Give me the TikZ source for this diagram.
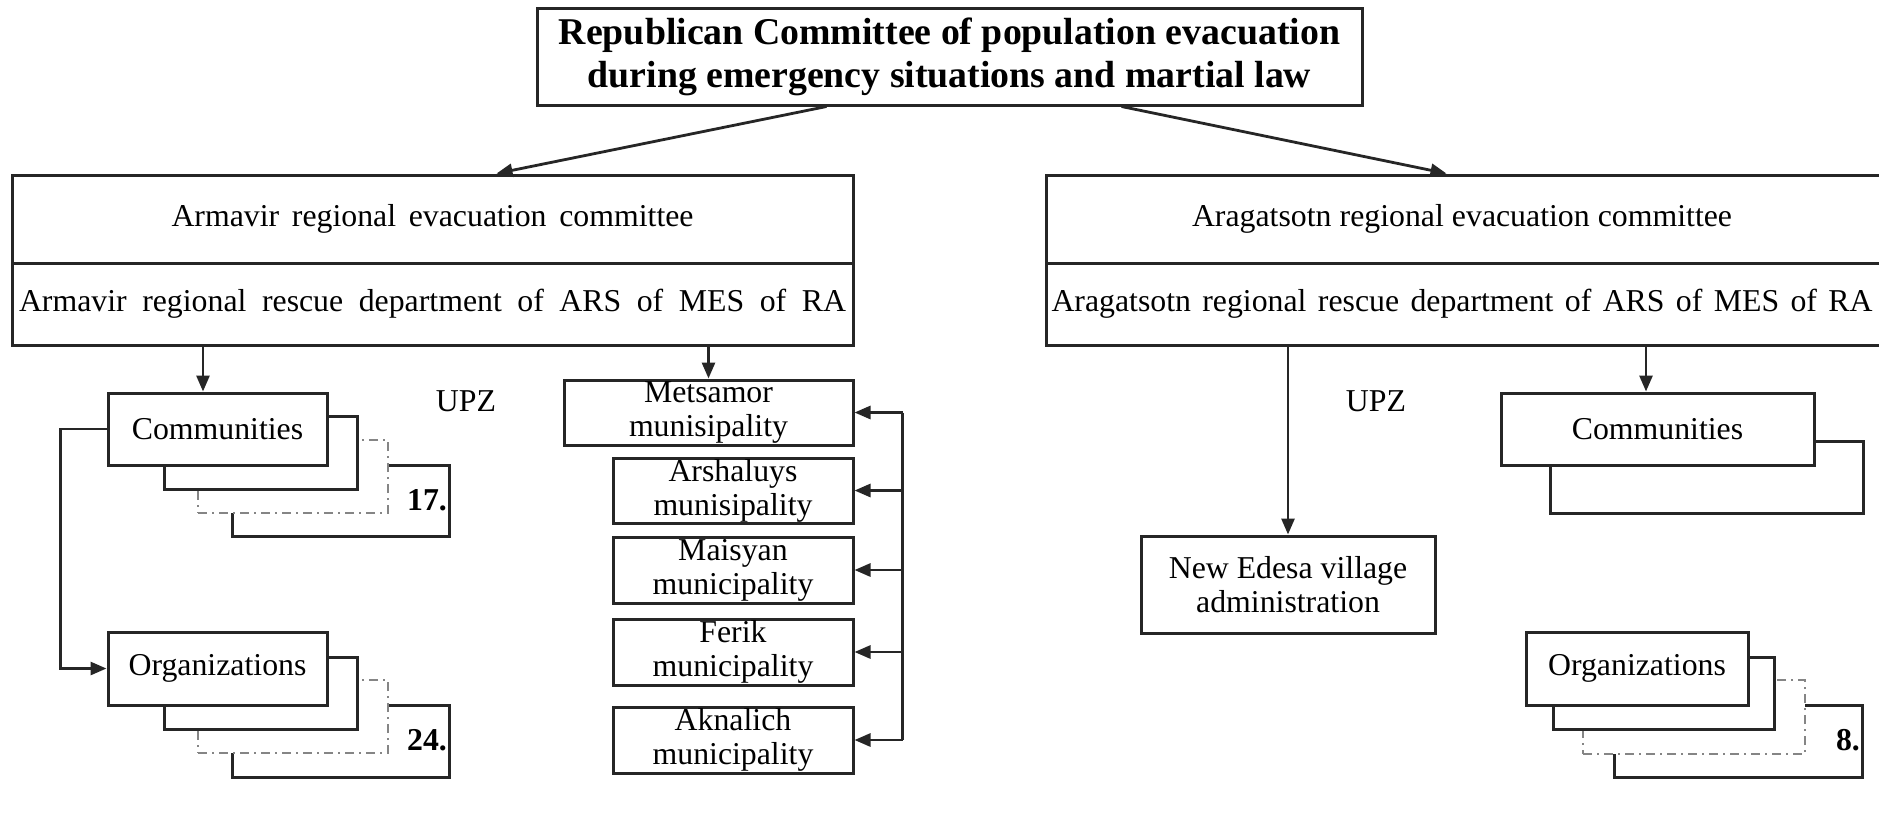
\documentclass[tikz,border=0pt]{standalone}
\usepackage{fontspec}
\setmainfont{Liberation Serif}
\usetikzlibrary{arrows.meta}
\definecolor{lc}{HTML}{262626}
\definecolor{ddc}{HTML}{858585}
\newcommand\txfont{\fontsize{15.9pt}{17pt}\selectfont}
\newcommand\topfont{\fontsize{18.9pt}{21.5pt}\selectfont\bfseries}
\begin{document}
\begin{tikzpicture}[x=0.5pt,y=-0.5pt,
  bx/.style={draw=lc,line width=1.5pt,fill=white,inner sep=0pt,align=center,font=\txfont},
  ddb/.style={draw=ddc,line width=1pt,dash pattern=on 4.5pt off 2.5pt on 1pt off 2.5pt,fill=white,inner sep=0pt},
  ln/.style={draw=lc,line width=1.4pt},
  arr/.style={draw=lc,line width=1.4pt,-{Triangle[length=8pt,width=6.5pt]}},
  lbl/.style={inner sep=0pt,font=\txfont},
  num/.style={inner sep=0pt,font=\txfont\bfseries}]
\useasboundingbox (0,0) rectangle (1879,826);
\fill[white] (0,0) rectangle (1879,826);

% top
\node[bx,minimum width=412.5pt,minimum height=48.5pt,font=\topfont] (top) at (949.5,56.5)
  {Republican Committee of population evacuation\\during emergency situations and martial law};

% regional committees
\node[bx,minimum width=420.5pt,minimum height=44pt] (arm1) at (432.5,219)
  {\makebox[261pt][s]{Armavir regional evacuation committee}};
\node[bx,minimum width=420.5pt,minimum height=41pt] (arm2) at (432.5,304)
  {\makebox[413.5pt][s]{Armavir regional rescue department of ARS of MES of RA}};
\node[bx,minimum width=427pt,minimum height=44pt] (rag1) at (1473,219)
  {\makebox[0pt]{\makebox[270pt][s]{Aragatsotn regional evacuation committee}\kern11pt}};
\node[bx,minimum width=427pt,minimum height=41pt] (rag2) at (1473,304)
  {\makebox[0pt]{\makebox[410.5pt][s]{Aragatsotn regional rescue department of ARS of MES of RA}\kern11pt}};

\draw[arr] ([xshift=145.5pt]top.south west) -- ([xshift=243pt]arm1.north west);
\draw[arr] ([xshift=293pt]top.south west) -- ([xshift=201pt]rag1.north west);

% left stacks
\node[bx,minimum width=108.5pt,minimum height=35.5pt] (comm4) at (340.5,500.5) {};
\node[ddb,minimum width=95pt,minimum height=36.5pt] (comm3) at (293,476.5) {};
\node[bx,minimum width=96.5pt,minimum height=36.5pt] (comm2) at (260.5,452.5) {};
\node[bx,minimum width=109.5pt,minimum height=36pt] (comm1) at (217.5,429) {Communities};
\node[num] (n17) at (427,500) {17.};

\node[bx,minimum width=108.5pt,minimum height=36pt] (org4) at (340.5,741) {};
\node[ddb,minimum width=95pt,minimum height=36.5pt] (org3) at (293,716.5) {};
\node[bx,minimum width=96.5pt,minimum height=36pt] (org2) at (260.5,693) {};
\node[bx,minimum width=109.5pt,minimum height=36.5pt] (org1) at (217.5,668.5) {Organizations};
\node[num] (n24) at (427,740) {24.};

\node[lbl] (upz1) at (466,401) {UPZ};

\coordinate (xa) at (203,0);
\draw[arr] (arm2.south -| xa) -- (comm1.north -| xa);
\draw[arr] (comm1.west) -- ++(-23pt,0) |- (org1.west);

% municipalities
\node[bx,minimum width=144.5pt,minimum height=32.5pt] (mets) at (708.5,412.5) {Metsamor\\munisipality};
\node[bx,minimum width=120pt,minimum height=32.5pt] (arsh) at (733,490.5) {Arshaluys\\munisipality};
\node[bx,minimum width=120pt,minimum height=33pt] (mais) at (733,570) {Maisyan\\municipality};
\node[bx,minimum width=120pt,minimum height=33pt] (ferik) at (733,652) {Ferik\\municipality};
\node[bx,minimum width=120pt,minimum height=33pt] (akn) at (733,740) {Aknalich\\municipality};

\draw[arr] (arm2.south -| mets.north) -- (mets.north);
\draw[ln] ([xshift=24pt]mets.east) -- ([xshift=24pt]akn.east);
\foreach \n in {mets,arsh,mais,ferik,akn}
  \draw[arr] ([xshift=24pt]\n.east) -- (\n.east);

% right side
\node[bx,minimum width=147pt,minimum height=48.5pt] (ned) at (1288,584.5) {New Edesa village\\administration};
\draw[arr] (rag2.south -| ned.north) -- (ned.north);
\node[lbl] (upz2) at (1376,401) {UPZ};

\node[bx,minimum width=156.5pt,minimum height=36pt] (rcomm2) at (1706.5,477) {};
\node[bx,minimum width=156.5pt,minimum height=36pt] (rcomm1) at (1657.5,429) {Communities};
\coordinate (xb) at (1646,0);
\draw[arr] (rag2.south -| xb) -- (rcomm1.north -| xb);

\node[bx,minimum width=124pt,minimum height=36pt] (rorg4) at (1738,741) {};
\node[ddb,minimum width=111pt,minimum height=37pt] (rorg3) at (1694,717) {};
\node[bx,minimum width=110.5pt,minimum height=36pt] (rorg2) at (1663.5,693) {};
\node[bx,minimum width=111pt,minimum height=36.5pt] (rorg1) at (1637,668.5) {Organizations};
\node[num] (n8) at (1848,740) {8.};
\end{tikzpicture}
\end{document}
